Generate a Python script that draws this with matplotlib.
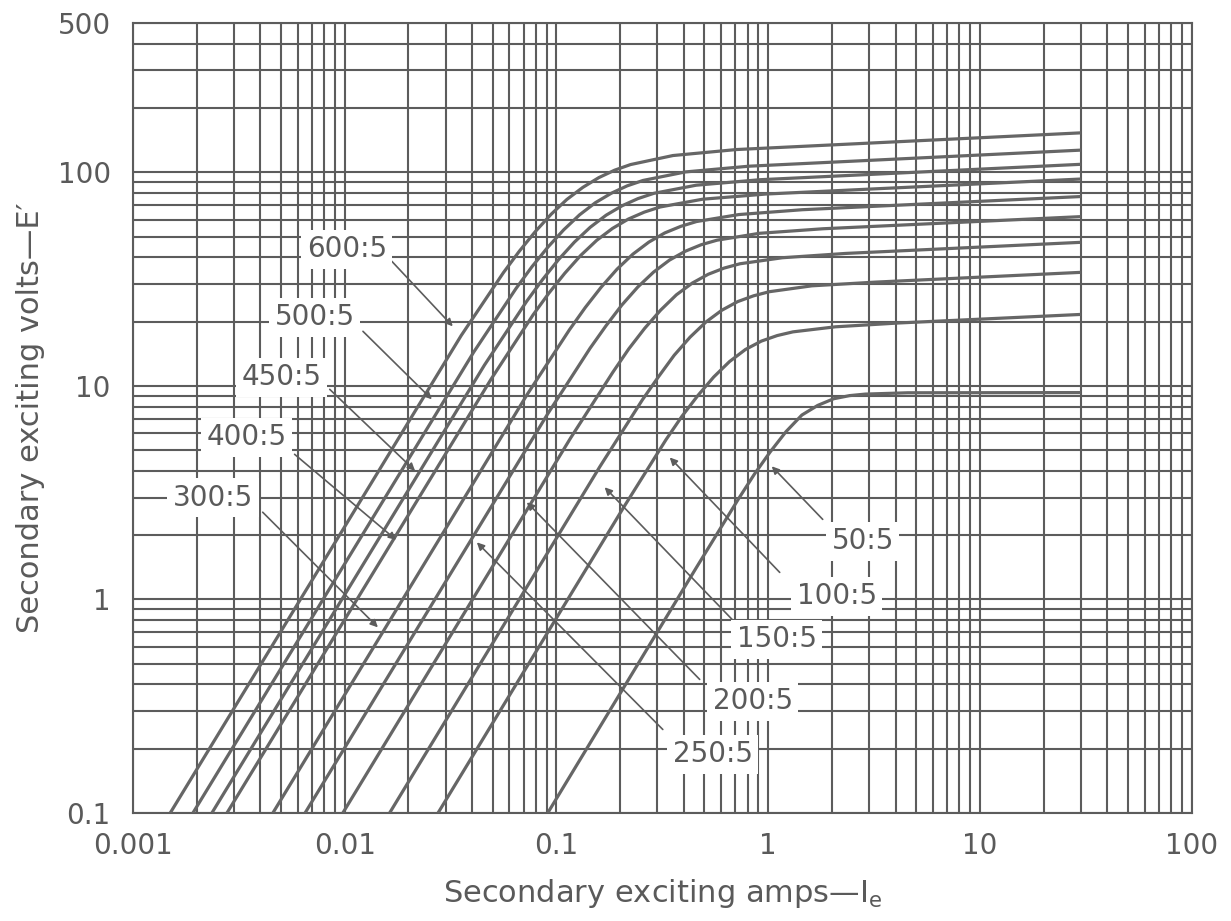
import matplotlib
matplotlib.use('Agg')
import matplotlib.pyplot as plt
from matplotlib.ticker import LogLocator, NullFormatter, FixedLocator, FixedFormatter

# ---------------- data ----------------
ratios = ['600:5', '500:5', '450:5', '400:5', '300:5', '250:5', '200:5', '150:5', '100:5', '50:5']

amps_600 = [0.0015, 0.0355, 0.0562, 0.0668, 0.0794, 0.0944, 0.112, 0.1333, 0.1585, 0.1883, 0.224, 0.355, 0.708, 30]
volts_600 = [0.1, 17.2, 33.9, 42.7, 52.7, 63.6, 74.6, 85.0, 94.4, 102.3, 108.7, 119.8, 127.8, 153]
amps_500 = [0.00192, 0.0407, 0.0645, 0.0766, 0.0911, 0.1083, 0.1286, 0.1529, 0.1817, 0.2159, 0.2566, 0.407, 0.812, 30]
volts_500 = [0.1, 14.4, 28.6, 36.1, 44.6, 53.8, 63.2, 72.1, 79.8, 86.4, 91.6, 100.4, 106.8, 127]
amps_450 = [0.00236, 0.0457, 0.0724, 0.0861, 0.1023, 0.1216, 0.1445, 0.1718, 0.2042, 0.2427, 0.2884, 0.457, 0.912, 30]
volts_450 = [0.1, 12.5, 24.9, 31.5, 39.0, 47.1, 55.3, 63.0, 69.7, 75.3, 79.7, 87.0, 92.3, 109]
amps_400 = [0.00278, 0.049, 0.0776, 0.0922, 0.1096, 0.1302, 0.1549, 0.184, 0.2187, 0.2601, 0.309, 0.49, 0.977, 30]
volts_400 = [0.1, 10.7, 21.5, 27.2, 33.7, 40.8, 48.0, 54.6, 60.4, 65.1, 68.8, 74.8, 79.1, 93]
amps_300 = [0.00458, 0.0727, 0.1152, 0.137, 0.1628, 0.1934, 0.2299, 0.2732, 0.3248, 0.3861, 0.4587, 0.727, 1.451, 30]
volts_300 = [0.1, 9.1, 18.3, 23.3, 29.0, 35.2, 41.4, 47.1, 52.0, 55.8, 58.8, 63.4, 66.8, 77]
amps_250 = [0.0065, 0.091, 0.1442, 0.1714, 0.2037, 0.2421, 0.2877, 0.342, 0.4064, 0.4831, 0.574, 0.91, 1.816, 30]
volts_250 = [0.1, 7.4, 15.0, 19.1, 23.9, 29.0, 34.1, 38.8, 42.7, 45.8, 48.1, 51.8, 54.4, 62]
amps_200 = [0.0098, 0.1167, 0.1849, 0.2197, 0.2612, 0.3103, 0.3689, 0.4385, 0.5211, 0.6194, 0.736, 1.167, 2.328, 30]
volts_200 = [0.1, 5.7, 11.6, 14.9, 18.6, 22.6, 26.7, 30.3, 33.3, 35.6, 37.3, 39.8, 41.7, 47]
amps_150 = [0.0163, 0.1608, 0.2547, 0.3028, 0.3598, 0.4277, 0.5082, 0.6042, 0.7178, 0.8533, 1.014, 1.607, 3.208, 30]
volts_150 = [0.1, 4.2, 8.6, 11.0, 13.9, 16.9, 19.9, 22.6, 24.8, 26.4, 27.6, 29.4, 30.6, 34]
amps_100 = [0.0276, 0.2078, 0.3294, 0.3915, 0.4653, 0.5531, 0.6574, 0.7812, 0.9286, 1.104, 1.31, 2.078, 4.148, 30]
volts_100 = [0.1, 2.7, 5.6, 7.2, 9.0, 11.0, 13.0, 14.8, 16.2, 17.2, 17.9, 18.9, 19.7, 21.6]
amps_50 = [0.091, 0.4563, 0.7233, 0.8597, 1.0216, 1.214, 1.443, 1.715, 2.038, 2.423, 2.879, 4.563, 30]
volts_50 = [0.1, 1.4, 2.95, 3.85, 4.9, 6.1, 7.3, 8.1, 8.7, 9.0, 9.15, 9.28, 9.3]

curves = [(amps_600, volts_600), (amps_500, volts_500), (amps_450, volts_450),
          (amps_400, volts_400), (amps_300, volts_300), (amps_250, volts_250),
          (amps_200, volts_200), (amps_150, volts_150), (amps_100, volts_100),
          (amps_50, volts_50)]

x_ticks = [0.001, 0.01, 0.1, 1, 10, 100]
x_ticklabels = ['0.001', '0.01', '0.1', '1', '10', '100']
y_ticks = [0.1, 1, 10, 100, 500]
y_ticklabels = ['0.1', '1', '10', '100', '500']

# label placement (layout, data coordinates): text centre, leader start, arrow tip
label_text_xy = [(0.01024, 43.6), (0.00723, 20.9), (0.00505, 10.96), (0.003452, 5.74),
                 (0.002386, 3.0), (0.548, 0.188), (0.846, 0.333), (1.098, 0.65),
                 (2.108, 1.033), (2.796, 1.87)]
label_start_xy = [(0.0167, 38.3), (0.0122, 18.0), (0.0085, 9.63), (0.0058, 4.78),
                  (0.0041, 2.56), (0.318, 0.246), (0.475, 0.422), (0.750, 0.724),
                  (1.134, 1.338), (1.81, 2.37)]
label_tip_xy = [(0.0324, 19.0), (0.0258, 8.65), (0.0215, 4.0), (0.0175, 1.9),
                (0.01435, 0.74), (0.0421, 1.85), (0.0725, 2.85), (0.169, 3.35),
                (0.343, 4.62), (1.04, 4.2)]

# ---------------- figure ----------------
plt.rcParams['font.family'] = ['DejaVu Sans']
ink = '#5c5c5c'
txt = '#5a5a5a'
fig = plt.figure(figsize=(12.31, 9.21), dpi=100)
ax = fig.add_axes([0.108, 0.1173, 0.860, 0.8577])
ax.set_xscale('log')
ax.set_yscale('log')
ax.set_xlim(0.001, 100)
ax.set_ylim(0.1, 500)

ax.xaxis.set_major_locator(FixedLocator(x_ticks))
ax.xaxis.set_major_formatter(FixedFormatter(x_ticklabels))
ax.yaxis.set_major_locator(FixedLocator(y_ticks))
ax.yaxis.set_major_formatter(FixedFormatter(y_ticklabels))
ax.xaxis.set_minor_locator(LogLocator(base=10, subs=range(2, 10), numticks=20))
ax.yaxis.set_minor_locator(LogLocator(base=10, subs=range(2, 10), numticks=20))
ax.xaxis.set_minor_formatter(NullFormatter())
ax.yaxis.set_minor_formatter(NullFormatter())

ax.grid(which='both', color=ink, linewidth=1.5)
ax.set_axisbelow(True)
for s in ax.spines.values():
    s.set_color(ink)
    s.set_linewidth(1.5)
ax.tick_params(which='both', length=0, colors=txt, labelsize=20)
ax.tick_params(axis='x', pad=14)
ax.tick_params(axis='y', pad=16)

for xs, ys in curves:
    ax.plot(xs, ys, color='#666666', linewidth=2.3, solid_capstyle='butt', zorder=3)

for name, txy, sxy, pxy in zip(ratios, label_text_xy, label_start_xy, label_tip_xy):
    ax.annotate('', xy=pxy, xytext=sxy, xycoords='data', textcoords='data',
                arrowprops=dict(arrowstyle='-|>', color=ink, lw=1.2,
                                mutation_scale=11, shrinkA=0, shrinkB=0),
                zorder=4)
    ax.text(txy[0], txy[1], name, ha='center', va='center', fontsize=20,
            color=txt, zorder=6,
            bbox=dict(boxstyle='square,pad=0.2', fc='white', ec='none'))

ax.set_xlabel(r'Secondary exciting amps—$\mathregular{I_e}$', fontsize=22,
              color=txt, labelpad=12)
ax.set_ylabel('Secondary exciting volts—E′', fontsize=22, color=txt,
              labelpad=9)

fig.savefig('out.png', dpi=100, facecolor='white')
